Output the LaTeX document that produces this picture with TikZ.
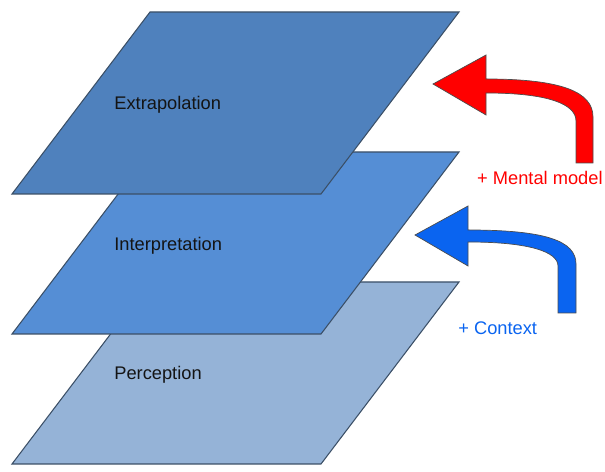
\documentclass[tikz,border=0pt]{standalone}
\usepackage{fontspec}
\setmainfont{Liberation Sans}
\usepackage{tikz}

\definecolor{extracol}{HTML}{4F81BD}
\definecolor{interpcol}{HTML}{558ED5}
\definecolor{percepcol}{HTML}{95B3D7}
\definecolor{edgecol}{HTML}{3B4F66}
\definecolor{modelred}{HTML}{FF0000}
\definecolor{contextblue}{HTML}{0A64F0}

\begin{document}
\begin{tikzpicture}[
            x=0.02cm, y=-0.02cm,
            layer/.style={draw=edgecol, line width=0.6pt, line join=miter},
            layertext/.style={anchor=mid west, inner sep=0pt, font=\fontsize{10.4}{12}\selectfont, text=black!92},
            bentarrow/.style={draw=black!70, line width=0.4pt},
            addtext/.style={inner sep=0pt, font=\fontsize{10.4}{12}\selectfont}
        ]
        \useasboundingbox (0,0) rectangle (605,472);

        % Planes, bottom one first
        \path[layer, fill=percepcol] (150,282) -- (459,282) -- (321,464) -- (12,464) -- cycle;
        \node[layertext] (percep) at (114,375) {Perception};

        \path[layer, fill=interpcol] (150,152) -- (459,152) -- (321,334) -- (12,334) -- cycle;
        \node[layertext] (interp) at (114,246) {Interpretation};

        \path[layer, fill=extracol] (150,12) -- (459,12) -- (321,194) -- (12,194) -- cycle;
        \node[layertext] (extra) at (114,105) {Extrapolation};

        % Bent arrows on the right
        \path[bentarrow, fill=modelred] (433,84) -- (486,55) -- (486,79)
            .. controls (562,79) and (593,92) .. (593,117) -- (593,163) -- (576,163) -- (576,121)
            .. controls (576,104) and (548,93) .. (486,93) -- (486,115) -- cycle;
        \node[addtext, text=modelred, anchor=east] (model) at (603,178) {+ Mental model};

        \path[bentarrow, fill=contextblue] (415,235) -- (468,206) -- (468,230)
            .. controls (546,230) and (576,241) .. (576,264) -- (576,313) -- (558,313) -- (558,266)
            .. controls (558,252) and (530,242) .. (468,242) -- (468,266) -- cycle;
        \node[addtext, text=contextblue, anchor=west] (context) at (458,328) {+ Context};

\end{tikzpicture}
\end{document}
